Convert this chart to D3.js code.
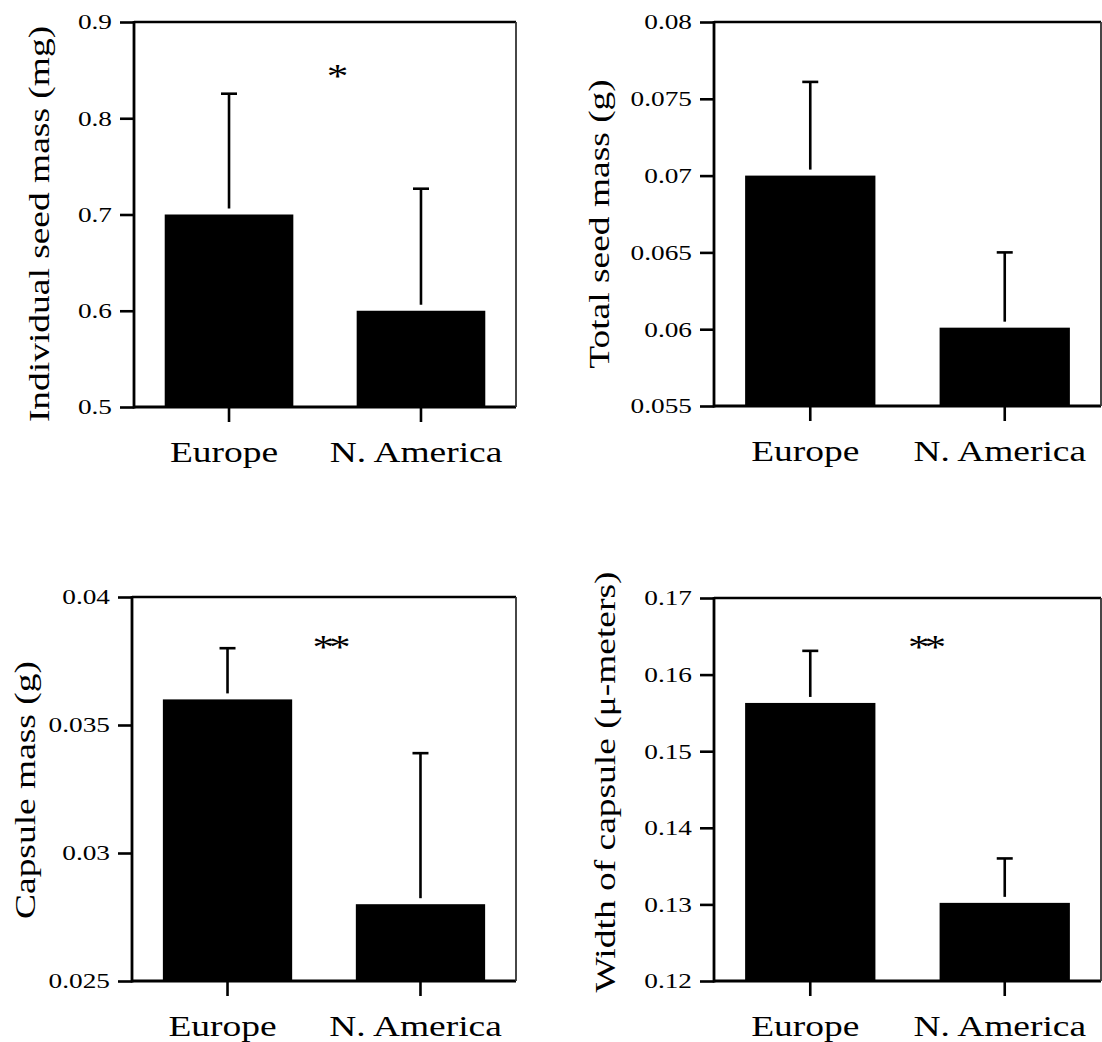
<!DOCTYPE html>
<html>
<head>
<meta charset="utf-8">
<script src="https://cdn.jsdelivr.net/npm/d3@7"></script>
<style>
  body { margin: 0; background: #fff; }
</style>
</head>
<body>
<div id="canvas"></div>
<script>
"use strict"

/* Data */
let categories = ["Europe", "N. America"];

let seedMassMean = [0.70, 0.60];
let seedMassSE = [0.1255, 0.1268];
let seedMassTicks = [0.5, 0.6, 0.7, 0.8, 0.9];
let seedMassTickLabels = ["0.5", "0.6", "0.7", "0.8", "0.9"];

let totalMassMean = [0.0700, 0.0601];
let totalMassSE = [0.0061, 0.0049];
let totalMassTicks = [0.055, 0.06, 0.065, 0.07, 0.075, 0.08];
let totalMassTickLabels = ["0.055", "0.06", "0.065", "0.07", "0.075", "0.08"];

let capsuleMassMean = [0.0360, 0.0280];
let capsuleMassSE = [0.0020, 0.0059];
let capsuleMassTicks = [0.025, 0.03, 0.035, 0.04];
let capsuleMassTickLabels = ["0.025", "0.03", "0.035", "0.04"];

let capsuleWidthMean = [0.1563, 0.1302];
let capsuleWidthSE = [0.0068, 0.0058];
let capsuleWidthTicks = [0.12, 0.13, 0.14, 0.15, 0.16, 0.17];
let capsuleWidthTickLabels = ["0.12", "0.13", "0.14", "0.15", "0.16", "0.17"];

let yTitles = ["Individual seed mass (mg)", "Total seed mass (g)",
    "Capsule mass (g)", "Width of capsule (\u03bc-meters)"];
let sigMarks = ["*", "", "**", "**"];

/* Drawing configuration */
let svgWidth = 1102;
let svgHeight = 1042;
let fontFamily = "'Liberation Serif', 'Times New Roman', Times, serif";
let bigFont = 29.5;
let smallFont = 21.5;
let stretch = "scale(1.27,1)"; // the original type is set wide

// where each panel sits on the page
let layout = [
    { left: 134, right: 516, top: 22, bottom: 407, titleX: 49, titleY: 224, sigDx: 10, sigY: 87 },
    { left: 714, right: 1101, top: 22, bottom: 406, titleX: 609, titleY: 224, sigDx: 0, sigY: 87 },
    { left: 132, right: 516, top: 597, bottom: 981, titleX: 35, titleY: 790, sigDx: 5, sigY: 658 },
    { left: 714, right: 1101, top: 598, bottom: 981, titleX: 615, titleY: 782, sigDx: 17, sigY: 658 }
];

let panels = [
    { mean: seedMassMean, se: seedMassSE, ticks: seedMassTicks, labels: seedMassTickLabels },
    { mean: totalMassMean, se: totalMassSE, ticks: totalMassTicks, labels: totalMassTickLabels },
    { mean: capsuleMassMean, se: capsuleMassSE, ticks: capsuleMassTicks, labels: capsuleMassTickLabels },
    { mean: capsuleWidthMean, se: capsuleWidthSE, ticks: capsuleWidthTicks, labels: capsuleWidthTickLabels }
];

let svg = d3.select("#canvas")
    .append("svg")
    .attr("width", svgWidth)
    .attr("height", svgHeight)
    .style("display", "block");

panels.forEach(function (p, i) {
    let L = layout[i];
    let g = svg.append("g");

    let xScale = d3.scaleBand()
        .domain(categories)
        .range([L.left, L.right])
        .paddingInner(0.33)
        .paddingOuter(0.16);

    let yScale = d3.scaleLinear()
        .domain([p.ticks[0], p.ticks[p.ticks.length - 1]])
        .range([L.bottom, L.top]);

    let rows = categories.map(function (c, j) {
        return { cat: c, mean: p.mean[j], se: p.se[j] };
    });

    // bars
    g.selectAll("rect.bar")
        .data(rows)
        .join("rect")
        .attr("class", "bar")
        .attr("x", d => xScale(d.cat))
        .attr("y", d => yScale(d.mean))
        .attr("width", xScale.bandwidth())
        .attr("height", d => L.bottom - yScale(d.mean))
        .attr("fill", "black");

    // error bars (upper only, starting just above the bar)
    let cx = d => xScale(d.cat) + xScale.bandwidth() / 2;
    g.selectAll("line.err")
        .data(rows)
        .join("line")
        .attr("class", "err")
        .attr("x1", cx)
        .attr("x2", cx)
        .attr("y1", d => yScale(d.mean) - 6)
        .attr("y2", d => yScale(d.mean + d.se))
        .attr("stroke", "black")
        .attr("stroke-width", 2.6);

    g.selectAll("line.cap")
        .data(rows)
        .join("line")
        .attr("class", "cap")
        .attr("x1", d => cx(d) - 8)
        .attr("x2", d => cx(d) + 8)
        .attr("y1", d => yScale(d.mean + d.se))
        .attr("y2", d => yScale(d.mean + d.se))
        .attr("stroke", "black")
        .attr("stroke-width", 2.6);

    // y axis
    let yAxis = g.append("g")
        .attr("transform", "translate(" + L.left + ",0)")
        .call(d3.axisLeft(yScale)
            .tickValues(p.ticks)
            .tickFormat((d, k) => p.labels[k])
            .tickSize(14)
            .tickPadding(7));
    yAxis.select(".domain").remove();
    yAxis.selectAll(".tick line").attr("stroke-width", 2.6);
    yAxis.selectAll(".tick text")
        .attr("x", 0)
        .attr("transform", "translate(-22,0) " + stretch)
        .attr("font-family", fontFamily)
        .attr("font-size", smallFont)
        .attr("fill", "black");

    // x axis
    let xAxis = g.append("g")
        .attr("transform", "translate(0," + L.bottom + ")")
        .call(d3.axisBottom(xScale).tickSize(15));
    xAxis.select(".domain").remove();
    xAxis.selectAll(".tick line").attr("stroke-width", 2.6);
    xAxis.selectAll(".tick text")
        .attr("y", 0)
        .attr("dy", null)
        .attr("transform", "translate(-5,55) " + stretch)
        .attr("font-family", fontFamily)
        .attr("font-size", bigFont)
        .attr("fill", "black");

    // frame
    g.append("line")
        .attr("x1", L.left).attr("x2", L.left)
        .attr("y1", L.top - 1).attr("y2", L.bottom + 1.5)
        .attr("stroke", "black").attr("stroke-width", 2.8);
    g.append("line")
        .attr("x1", L.left).attr("x2", L.right)
        .attr("y1", L.bottom).attr("y2", L.bottom)
        .attr("stroke", "black").attr("stroke-width", 3);
    g.append("line")
        .attr("x1", L.left).attr("x2", L.right)
        .attr("y1", L.top).attr("y2", L.top)
        .attr("stroke", "black").attr("stroke-width", 2.6);
    g.append("line")
        .attr("x1", L.right).attr("x2", L.right)
        .attr("y1", L.top).attr("y2", L.bottom)
        .attr("stroke", "#333").attr("stroke-width", 1.8);

    // y title
    g.append("text")
        .attr("transform", "translate(" + L.titleX + "," + L.titleY + ") rotate(-90) " + stretch)
        .attr("text-anchor", "middle")
        .attr("font-family", fontFamily)
        .attr("font-size", bigFont)
        .text(yTitles[i]);

    // significance mark between the bars
    if (sigMarks[i]) {
        let mid = (xScale(categories[0]) + xScale.bandwidth() + xScale(categories[1])) / 2;
        g.append("text")
            .attr("transform", "translate(" + (mid + L.sigDx) + "," + L.sigY + ") " + stretch)
            .attr("text-anchor", "middle")
            .attr("font-family", fontFamily)
            .attr("font-size", 34)
            .attr("letter-spacing", "-4px")
            .text(sigMarks[i]);
    }
});
</script>
</body>
</html>
